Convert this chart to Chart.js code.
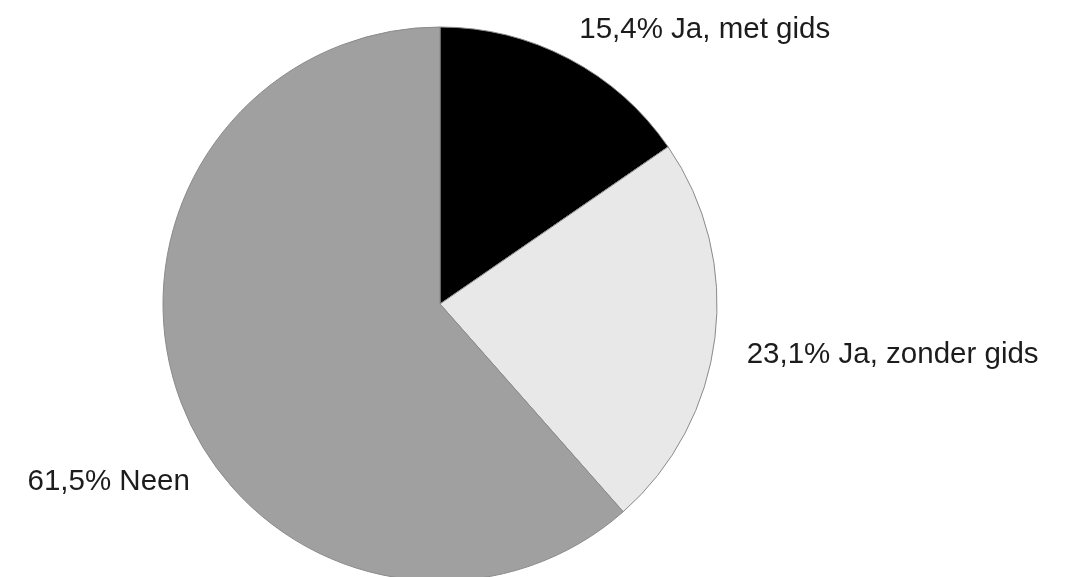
<!DOCTYPE html>
<html>
<head>
<meta charset="utf-8">
<script src="https://cdn.jsdelivr.net/npm/chart.js@4.4.1/dist/chart.umd.min.js"></script>
<style>
  html, body { margin: 0; padding: 0; background: #ffffff; }
  #wrap { width: 1068px; height: 577px; position: relative; }
</style>
</head>
<body>
<div id="wrap"><canvas id="c" width="1068" height="577"></canvas></div>
<script>
const categories = ["Ja, met gids", "Ja, zonder gids", "Neen"];
const percentages = [15.4, 23.1, 61.5];
const sliceColors = ["#000000", "#e8e8e8", "#a0a0a0"];

const labelPlugin = {
  id: 'sliceLabels',
  afterDatasetsDraw(chart, args, opts) {
    const ctx = chart.ctx;
    const meta = chart.getDatasetMeta(0);
    ctx.save();
    ctx.font = opts.font;
    ctx.fillStyle = opts.color;
    ctx.textBaseline = 'alphabetic';
    meta.data.forEach((arc, i) => {
      const p = arc.getProps(['x', 'y', 'startAngle', 'endAngle', 'outerRadius'], true);
      const mid = (p.startAngle + p.endAngle) / 2;
      const r = p.outerRadius + opts.offset;
      const nudge = opts.nudges[i] || {dx: 0, dy: 0};
      const x = p.x + Math.cos(mid) * r + nudge.dx;
      const y = p.y + Math.sin(mid) * r + nudge.dy;
      const txt = percentages[i].toFixed(1).replace('.', ',') + '% ' + categories[i];
      ctx.textAlign = Math.cos(mid) >= 0 ? 'left' : 'right';
      ctx.fillText(txt, x, y);
    });
    ctx.restore();
  }
};

new Chart(document.getElementById('c'), {
  type: 'pie',
  data: {
    labels: categories,
    datasets: [{
      data: percentages,
      backgroundColor: sliceColors,
      borderColor: '#8a8a8a',
      borderWidth: 1,
      clip: false
    }]
  },
  options: {
    responsive: false,
    animation: false,
    radius: 277,
    layout: { padding: { left: 0, right: 188, top: 31, bottom: 0 } },
    plugins: {
      legend: { display: false },
      tooltip: { enabled: false },
      sliceLabels: {
        font: '29.5px "Liberation Sans", Arial, sans-serif',
        color: '#1c1c1c',
        offset: 31,
        nudges: [{dx: -4, dy: 7}, {dx: 1, dy: 21}, {dx: 38, dy: 77}]
      }
    }
  },
  plugins: [labelPlugin]
});
</script>
</body>
</html>
